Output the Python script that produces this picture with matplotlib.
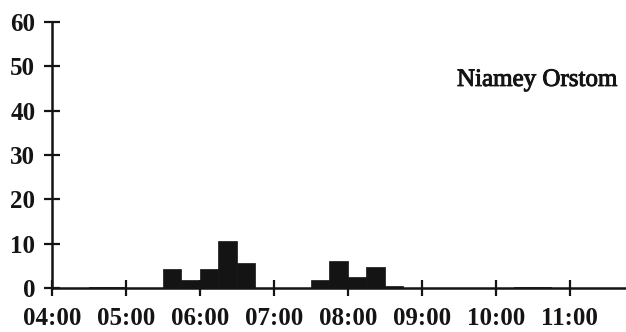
import matplotlib.pyplot as plt
import matplotlib.patheffects as pe

# 15-minute bins, start time in hours
bin_start = [4.5, 4.75, 5.5, 5.75, 6.0, 6.25, 6.5, 7.5, 7.75, 8.0, 8.25, 8.5, 10.25, 10.5]
values = [0.3, 0.3, 4.3, 1.8, 4.3, 10.7, 5.6, 1.8, 6.0, 2.5, 4.8, 0.5, 0.3, 0.3]
bin_width = 0.25

x_ticks = [4, 5, 6, 7, 8, 9, 10, 11]
x_labels = ["04:00", "05:00", "06:00", "07:00", "08:00", "09:00", "10:00", "11:00"]
y_ticks = [0, 10, 20, 30, 40, 50, 60]
station = "Niamey Orstom"

plt.rcParams['font.family'] = ['Liberation Serif', 'DejaVu Serif']

fig = plt.figure(figsize=(6.26, 3.32), dpi=100)
ax = fig.add_axes([0.083, 0.1325, 0.917, 0.8015])

ax.bar(bin_start, values, width=bin_width, align='edge', color='#141414', edgecolor='#141414', linewidth=0.5)

ax.set_xlim(4, 11.76)
ax.set_ylim(0, 60)

for side in ['top', 'right']:
    ax.spines[side].set_visible(False)
for side in ['left', 'bottom']:
    ax.spines[side].set_linewidth(1.8)
    ax.spines[side].set_color('#141414')

ax.set_xticks(x_ticks)
ax.set_xticklabels(x_labels)
ax.set_yticks(y_ticks)
ax.tick_params(axis='both', direction='inout', length=12, width=1.6, color='#141414',
               labelsize=18, labelcolor='#141414')
ax.tick_params(axis='x', pad=8)
ax.tick_params(axis='y', pad=6)
for lab in ax.get_xticklabels() + ax.get_yticklabels():
    lab.set_fontweight('bold')

# station name, slightly thickened to look like the scanned print
ax.text(0.985, 0.782, station, transform=ax.transAxes, ha='right', va='center',
        fontsize=18, color='#141414',
        path_effects=[pe.withStroke(linewidth=0.7, foreground='#141414')])

fig.savefig('out.png', dpi=100)
